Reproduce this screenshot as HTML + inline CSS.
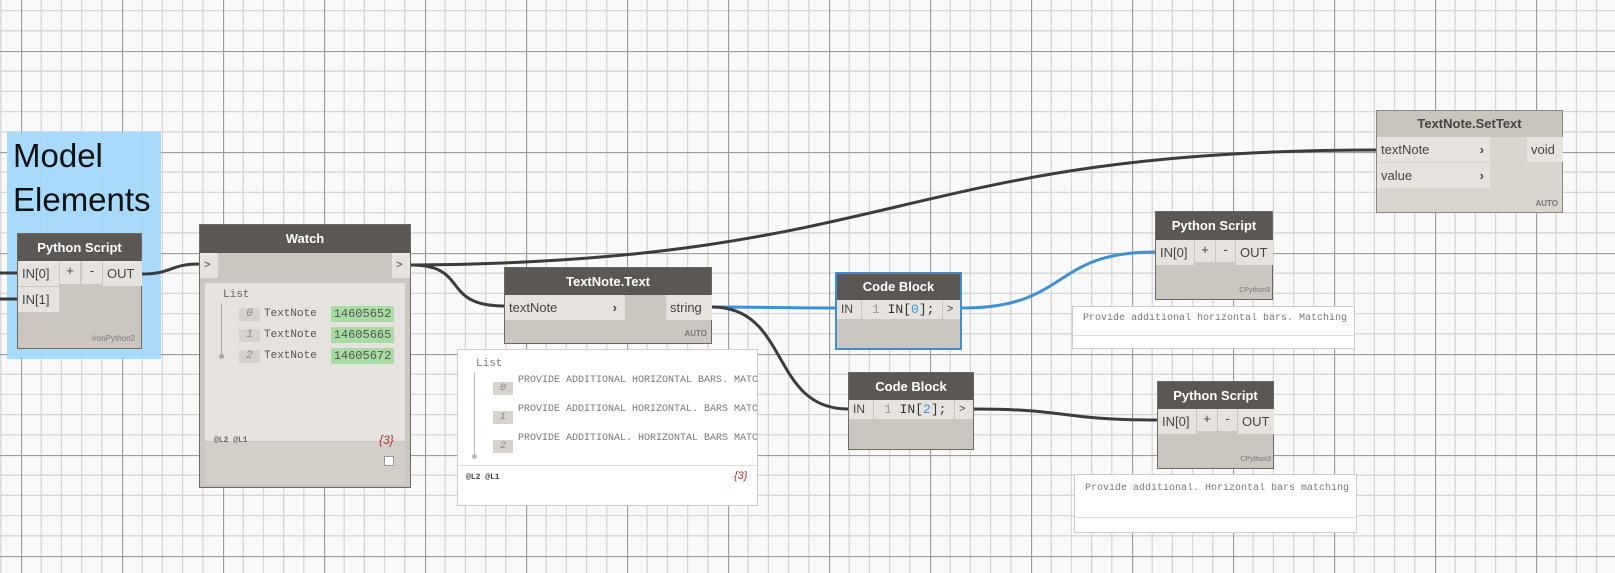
<!DOCTYPE html>
<html><head><meta charset="utf-8"><style>
*{margin:0;padding:0;box-sizing:border-box}
body{width:1615px;height:573px;overflow:hidden;background:#f9f9f9;font-family:"Liberation Sans","DejaVu Sans",sans-serif;position:relative}
.a{position:absolute}
.node{position:absolute;background:#cbc7c0;border:1px solid #6b6966}
.hd{position:absolute;left:0;right:0;top:0;background:#5a5755;color:#fff;font-weight:bold;font-size:13px;text-align:center}
.port{position:absolute;background:#e6e3de;color:#444;font-size:13px;line-height:25px;padding-left:4px}
.sm{position:absolute;font-size:8px;color:#777;font-weight:bold}
.mono{font-family:"Liberation Mono","DejaVu Sans Mono",monospace}
.idx{position:absolute;background:#d6d3ce;color:#888;font-style:italic;font-size:11px;text-align:center;line-height:13px}
.tn{position:absolute;left:64px;font-size:11px;color:#555;line-height:15px}
.gr{position:absolute;left:131px;width:63px;height:16px;background:#a9dca5;color:#555;font-size:12px;line-height:16px;text-align:center}
</style></head><body>
<svg class="a" style="left:0;top:0" width="1615" height="573">
<defs>
<pattern id="g" x="21" y="51" width="101" height="101" patternUnits="userSpaceOnUse">
<g stroke="#d6d6d6" stroke-width="1.3">
<line x1="20.2" y1="0" x2="20.2" y2="101"/><line x1="40.4" y1="0" x2="40.4" y2="101"/><line x1="60.6" y1="0" x2="60.6" y2="101"/><line x1="80.8" y1="0" x2="80.8" y2="101"/>
<line y1="20.2" x1="0" y2="20.2" x2="101"/><line y1="40.4" x1="0" y2="40.4" x2="101"/><line y1="60.6" x1="0" y2="60.6" x2="101"/><line y1="80.8" x1="0" y2="80.8" x2="101"/>
</g>
<g stroke="#9c9c9c" stroke-width="1.3"><line x1="0.5" y1="0" x2="0.5" y2="101"/><line y1="0.5" x1="0" y2="0.5" x2="101"/></g>
</pattern></defs>
<rect width="1615" height="573" fill="#f9f9f9"/>
<rect width="1615" height="573" fill="url(#g)"/>
</svg>
<div class="a" style="left:7px;top:132px;width:154px;height:227px;background:#a3d8fb;opacity:.95"></div>
<div class="a" style="left:13px;top:134px;font-size:33px;line-height:44px;color:#111">Model<br>Elements</div>

<svg class="a" style="left:0;top:0" width="1615" height="573" fill="none" stroke-width="3" stroke-linecap="round">
<path d="M0 273 C8 273 10 273 17 273" stroke="#3c3c3c"/>
<path d="M0 299 C8 299 10 299 17 299" stroke="#3c3c3c"/>
<path d="M142 274 C172 274 170 264 199 264" stroke="#3c3c3c"/>
<path d="M411 265 C900 262 900 150 1376 150" stroke="#3c3c3c"/>
<path d="M411 265 C470 265 440 306 504 306" stroke="#3c3c3c"/>
<path d="M712 307 C775 307 775 308 836 308" stroke="#3d8fd8"/>
<path d="M712 307 C790 307 770 409 848 409" stroke="#3c3c3c"/>
<path d="M962 308 C1070 308 1050 252 1155 252" stroke="#3d8fd8"/>
<path d="M974 409 C1070 409 1060 420 1157 420" stroke="#3c3c3c"/>
</svg>

<div class="node" style="left:17px;top:233px;width:125px;height:116px">
<div class="hd" style="height:27px;line-height:27px">Python Script</div>
<div class="port" style="left:0;top:27px;width:41px;height:25px">IN[0]</div>
<div class="port" style="left:42px;top:27px;width:20px;height:23px;text-align:center;padding:0;line-height:20px">+</div>
<div class="port" style="left:64px;top:27px;width:20px;height:23px;text-align:center;padding:0;line-height:20px">-</div>
<div class="port" style="left:85px;top:27px;width:39px;height:25px">OUT</div>
<div class="port" style="left:0;top:53px;width:41px;height:25px">IN[1]</div>
<div class="sm" style="right:6px;bottom:5px;font-weight:normal">IronPython2</div>
</div>

<div class="node" style="left:199px;top:224px;width:212px;height:264px">
<div class="hd" style="height:28px;line-height:28px">Watch</div>
<div class="port" style="left:0;top:28px;width:18px;height:25px;font-size:11px">&gt;</div>
<div class="port" style="left:192px;top:28px;width:18px;height:25px;font-size:11px">&gt;</div>
<div class="a" style="left:5px;top:58px;width:200px;height:158px;background:#e6e3de"></div>
<div class="a mono" style="left:23px;top:64px;font-size:11px;color:#666">List</div>
<div class="a" style="left:21px;top:78px;width:1px;height:52px;background:#aaa"></div>
<div class="a" style="left:19px;top:129px;width:5px;height:5px;border-radius:50%;background:#aaa"></div>
<div class="idx mono" style="left:39px;top:83px;width:21px">0</div>
<div class="idx mono" style="left:39px;top:104px;width:21px">1</div>
<div class="idx mono" style="left:39px;top:125px;width:21px">2</div>
<div class="tn mono" style="top:82px">TextNote</div>
<div class="tn mono" style="top:103px">TextNote</div>
<div class="tn mono" style="top:124px">TextNote</div>
<div class="gr mono" style="top:81px">14605652</div>
<div class="gr mono" style="top:102px">14605665</div>
<div class="gr mono" style="top:123px">14605672</div>
<div class="a" style="left:5px;top:217px;width:200px;height:42px;background:#d2cec8"></div>
<div class="sm mono" style="left:14px;top:211px;color:#666">@L2 @L1</div>
<div class="a" style="left:179px;top:208px;font-size:12px;font-style:italic;color:#a33">{3}</div>
<div class="a" style="left:184px;top:231px;width:10px;height:10px;background:#fff;border:1px solid #999"></div>
</div>

<div class="node" style="left:504px;top:267px;width:208px;height:77px">
<div class="hd" style="height:27px;line-height:27px">TextNote.Text</div>
<div class="port" style="left:0;top:27px;width:120px;height:25px">textNote<span style="position:absolute;right:8px;font-weight:bold">›</span></div>
<div class="port" style="left:161px;top:27px;width:46px;height:25px">string</div>
<div class="sm" style="right:4px;bottom:5px">AUTO</div>
</div>
<div class="a" style="left:457px;top:349px;width:301px;height:157px;background:#fff;border:1px solid #ccc">
<div class="a mono" style="left:18px;top:8px;font-size:11px;color:#777">List</div>
<div class="a" style="left:16px;top:22px;width:1px;height:84px;background:#bbb"></div>
<div class="a" style="left:14px;top:104px;width:5px;height:5px;border-radius:50%;background:#bbb"></div>
<div class="idx mono" style="left:35px;top:32px;width:20px;font-size:10px">0</div>
<div class="idx mono" style="left:35px;top:61px;width:20px;font-size:10px">1</div>
<div class="idx mono" style="left:35px;top:90px;width:20px;font-size:10px">2</div>
<div class="a mono" style="left:60px;top:16px;font-size:10px;color:#777;white-space:nowrap;width:240px;overflow:hidden;line-height:29px">PROVIDE ADDITIONAL HORIZONTAL BARS. MATCHING<br>PROVIDE ADDITIONAL HORIZONTAL. BARS MATCHING<br>PROVIDE ADDITIONAL. HORIZONTAL BARS MATCHING</div>
<div class="a" style="left:0;top:115px;width:299px;height:1px;background:#ddd"></div>
<div class="sm mono" style="left:8px;top:123px;color:#444">@L2 @L1</div>
<div class="a" style="left:276px;top:120px;font-size:11px;font-style:italic;color:#a33">{3}</div>
</div>

<div class="node" style="left:835px;top:272px;width:127px;height:78px;border:2px solid #3d8fd8">
<div class="hd" style="height:26px;line-height:26px">Code Block</div>
<div class="port" style="left:0;top:26px;width:24px;height:19px;line-height:19px;font-size:12px">IN</div>
<div class="a mono" style="left:25px;top:26px;width:80px;height:19px;background:#e6e3de;font-size:13px;line-height:19px;color:#333"><span style="color:#999;padding-left:10px">1</span> IN[<span style="color:#3d8fd8">0</span>];</div>
<div class="port" style="left:106px;top:26px;width:17px;height:19px;line-height:19px;font-size:11px">&gt;</div>
</div>

<div class="node" style="left:848px;top:372px;width:126px;height:78px">
<div class="hd" style="height:27px;line-height:27px">Code Block</div>
<div class="port" style="left:0;top:27px;width:24px;height:19px;line-height:19px;font-size:12px">IN</div>
<div class="a mono" style="left:25px;top:27px;width:80px;height:19px;background:#e6e3de;font-size:13px;line-height:19px;color:#333"><span style="color:#999;padding-left:10px">1</span> IN[<span style="color:#3d8fd8">2</span>];</div>
<div class="port" style="left:106px;top:27px;width:18px;height:19px;line-height:19px;font-size:11px">&gt;</div>
</div>

<div class="node" style="left:1376px;top:110px;width:187px;height:103px;background:#d8d5cf;border-color:#8a8885">
<div class="hd" style="height:26px;line-height:26px;background:#c9c5bd;color:#444">TextNote.SetText</div>
<div class="port" style="left:0;top:26px;width:113px;height:25px">textNote<span style="position:absolute;right:6px;font-weight:bold">›</span></div>
<div class="port" style="left:0;top:52px;width:113px;height:25px">value<span style="position:absolute;right:6px;font-weight:bold">›</span></div>
<div class="port" style="left:150px;top:26px;width:36px;height:25px">void</div>
<div class="sm" style="right:4px;bottom:4px">AUTO</div>
</div>

<div class="node" style="left:1155px;top:211px;width:118px;height:89px">
<div class="hd" style="height:28px;line-height:28px">Python Script</div>
<div class="port" style="left:0;top:28px;width:38px;height:25px">IN[0]</div>
<div class="port" style="left:39px;top:28px;width:20px;height:22px;text-align:center;padding:0;line-height:20px">+</div>
<div class="port" style="left:60px;top:28px;width:19px;height:22px;text-align:center;padding:0;line-height:20px">-</div>
<div class="port" style="left:80px;top:28px;width:37px;height:25px">OUT</div>
<div class="sm" style="right:2px;bottom:5px;font-weight:normal;font-size:7px">CPython3</div>
</div>
<div class="a" style="left:1072px;top:306px;width:283px;height:43px;background:#fff;border:1px solid #ccc">
<div class="a mono" style="left:10px;top:6px;font-size:10px;color:#777;white-space:nowrap;width:270px;overflow:hidden">Provide additional horizontal bars. Matching</div>
<div class="a" style="left:0;top:28px;width:281px;height:1px;background:#ddd"></div>
</div>

<div class="node" style="left:1157px;top:381px;width:117px;height:88px">
<div class="hd" style="height:27px;line-height:27px">Python Script</div>
<div class="port" style="left:0;top:27px;width:38px;height:25px">IN[0]</div>
<div class="port" style="left:39px;top:27px;width:20px;height:22px;text-align:center;padding:0;line-height:20px">+</div>
<div class="port" style="left:60px;top:27px;width:19px;height:22px;text-align:center;padding:0;line-height:20px">-</div>
<div class="port" style="left:80px;top:27px;width:36px;height:25px">OUT</div>
<div class="sm" style="right:2px;bottom:5px;font-weight:normal;font-size:7px">CPython3</div>
</div>
<div class="a" style="left:1074px;top:474px;width:283px;height:59px;background:#fff;border:1px solid #ccc">
<div class="a mono" style="left:10px;top:8px;font-size:10px;color:#777;white-space:nowrap;width:270px;overflow:hidden">Provide additional. Horizontal bars matching</div>
<div class="a" style="left:0;top:42px;width:281px;height:1px;background:#ddd"></div>
</div>
</body></html>
